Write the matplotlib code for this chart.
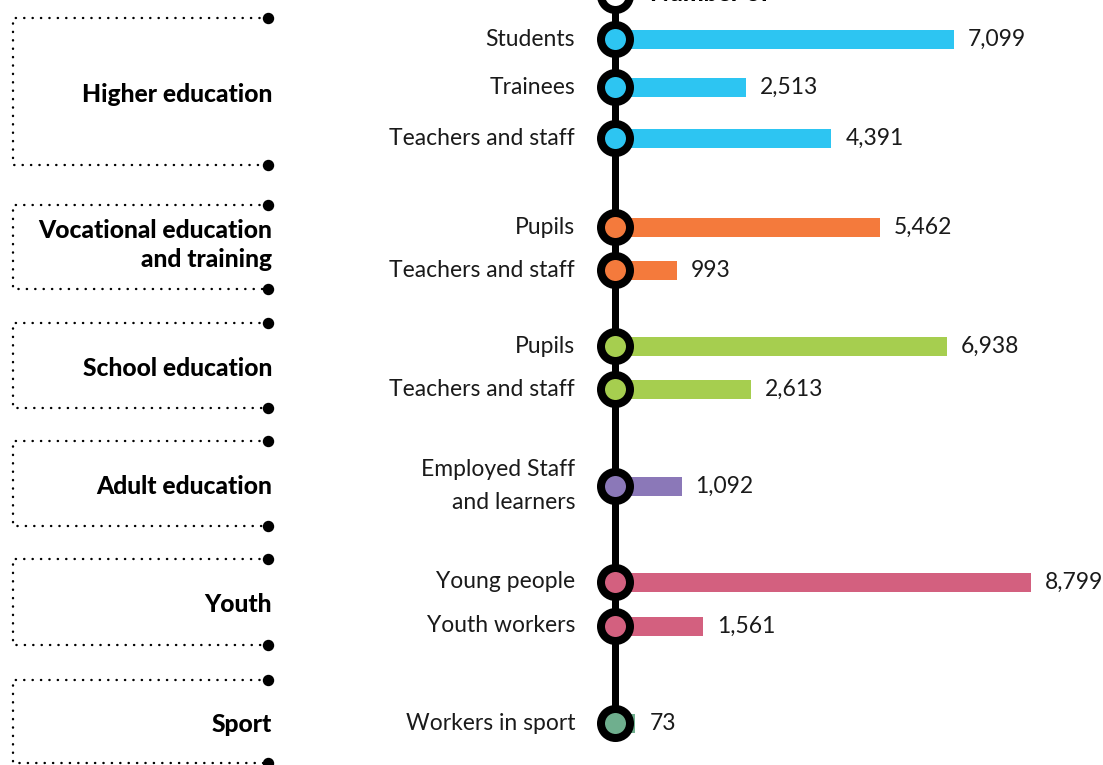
"""Erasmus+ participants by sector, drawn as a 'metro line' bar chart."""
import matplotlib

matplotlib.use("Agg")
import matplotlib.pyplot as plt

# ---- data -------------------------------------------------------------
groups = ["Higher education", "Vocational education\nand training", "School education",
          "Adult education", "Youth", "Sport"]
group_colors = ["#2DC5F2", "#F47A3C", "#A6CE4F", "#8B78B8", "#D3607F", "#6FAF8E"]
row_labels = ["Students", "Trainees", "Teachers and staff",
              "Pupils", "Teachers and staff",
              "Pupils", "Teachers and staff",
              "Employed Staff\nand learners",
              "Young people", "Youth workers",
              "Workers in sport"]
row_group = [0, 0, 0, 1, 1, 2, 2, 3, 4, 4, 5]
values = [7099, 2513, 4391, 5462, 993, 6938, 2613, 1092, 8799, 1561, 73]

# ---- layout (pixel positions of the reference) ------------------------
W, H, DPI = 1103, 765, 100
ROW_Y = [39, 87, 138, 227, 270, 346, 389, 486, 582, 626, 723]
BRACKETS = [(18, 165, 94), (205, 289, 245), (323, 408, 368),
            (441, 526, 486), (559, 645, 604), (680, 763, 724)]
ZERO_PX = 632          # where value 0 sits
PX_PER_UNIT = 0.04538  # px per participant
SPINE_PX = 615
LABEL_PX = 575
BR_LEFT, BR_RIGHT, CAT_PX = 13, 268, 272
PT = 72 / DPI          # points per pixel


def px(p):
    """horizontal pixel position -> data x"""
    return (p - ZERO_PX) / PX_PER_UNIT


fig = plt.figure(figsize=(W / DPI, H / DPI), dpi=DPI)
ax = fig.add_axes([0, 0, 1, 1])
ax.set_xlim(px(0), px(W))
ax.set_ylim(H, 0)
ax.set_axis_off()

reg = dict(family=["Lato", "DejaVu Sans"], fontsize=16.5, color="#1a1a1a")
bold = dict(family=["Lato", "DejaVu Sans"], fontsize=17.7, fontweight="black", color="black")

# spine of the "metro line"
ax.plot([px(SPINE_PX)] * 2, [-10, ROW_Y[-1]], color="black", lw=7 * PT,
        solid_capstyle="butt", zorder=2)
ax.plot(px(SPINE_PX), -5, "o", ms=29 * PT, mfc="white", mec="black", mew=8 * PT, zorder=4)
ax.text(px(650), -7, "Number of", ha="left", va="center", **bold)

# bars, stops, labels
for y, lab, g, v in zip(ROW_Y, row_labels, row_group, values):
    c = group_colors[g]
    ax.barh(y, v, left=0, height=19, color=c, zorder=1)
    ax.barh(y, px(ZERO_PX + 1) - px(SPINE_PX), left=px(SPINE_PX), height=19, color=c, zorder=1)
    ax.plot(px(SPINE_PX), y, "o", ms=29 * PT, mfc=c, mec="black", mew=8 * PT, zorder=4)
    ax.text(px(LABEL_PX), y, lab, ha="right", va="center", linespacing=1.75, **reg)
    ax.text(v + 14 / PX_PER_UNIT, y, f"{v:,}", ha="left", va="center", **reg)

# dotted brackets with group names
for (top, bot, ty), name in zip(BRACKETS, groups):
    dot = dict(color="black", lw=2.4 * PT, ls=(0, (0.1, 3.4)), dash_capstyle="round", zorder=1)
    ax.plot([px(BR_RIGHT), px(BR_LEFT), px(BR_LEFT), px(BR_RIGHT)], [top, top, bot, bot], **dot)
    ax.plot([px(BR_RIGHT)] * 2, [top, bot], "o", ms=10 * PT, color="black", ls="none", zorder=2)
    ax.text(px(CAT_PX), ty, name, ha="right", va="center", linespacing=1.3, **bold)

fig.savefig("out.png", dpi=DPI)
